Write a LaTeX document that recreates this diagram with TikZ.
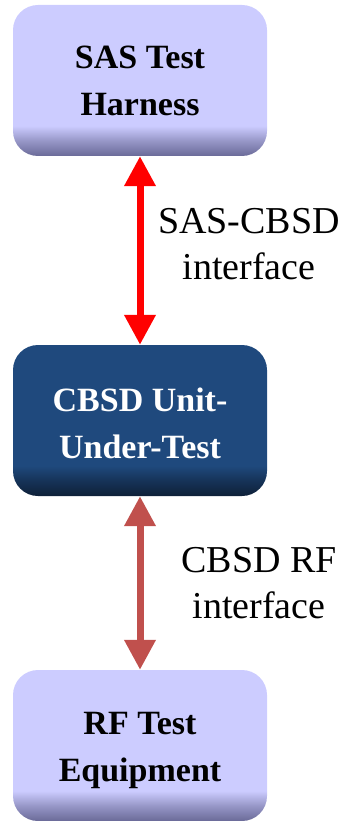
\documentclass[tikz,border=0pt]{standalone}
\usepackage{fontspec}
\setmainfont{Liberation Serif}
\usetikzlibrary{arrows.meta}
\definecolor{lav}{HTML}{CCCCFF}
\definecolor{lavdark}{HTML}{6A6A98}
\definecolor{navy}{HTML}{1F497D}
\definecolor{navydark}{HTML}{0E2038}
\definecolor{rfred}{HTML}{C0504D}
\pgfdeclareverticalshading{lavshade}{100bp}{color(0bp)=(lavdark); color(25bp)=(lavdark); color(30bp)=(lavdark!55!lav); color(35bp)=(lav); color(100bp)=(lav)}
\pgfdeclareverticalshading{navyshade}{100bp}{color(0bp)=(navydark); color(25bp)=(navydark); color(30bp)=(navydark!55!navy); color(35bp)=(navy); color(100bp)=(navy)}
\begin{document}
\begin{tikzpicture}[x=1pt,y=-1pt,
  boxbase/.style={rounded corners=25pt, minimum width=254pt, minimum height=151pt,
    inner sep=0pt, align=center, font=\fontsize{34}{47}\selectfont\bfseries},
  lightbox/.style={boxbase, shade, shading=lavshade, text=black},
  darkbox/.style={boxbase, shade, shading=navyshade, text=white},
  biarrow/.style={line width=7pt, {Triangle[width=30pt,length=30pt]}-{Triangle[width=30pt,length=30pt]}},
  lbl/.style={align=center, inner sep=0pt, font=\fontsize{38}{46}\selectfont}]
\useasboundingbox (0,0) rectangle (345,821);
\node[lightbox] (sas) at (140,80.5) {SAS Test\\Harness};
\node[darkbox] (cbsd) at (140,420.5) {\rule{0pt}{29pt}CBSD Unit-\\Under-Test};
\node[lightbox] (rf) at (140,745.5) {\rule{0pt}{32pt}RF Test\\Equipment};
\draw[biarrow, red] (sas.south) -- (cbsd.north);
\draw[biarrow, rfred] (cbsd.south) -- (rf.north);
\node[lbl] (l1) at (249,244) {SAS-CBSD\\interface};
\node[lbl] (l2) at (259,583) {CBSD RF\\interface};
\end{tikzpicture}
\end{document}
